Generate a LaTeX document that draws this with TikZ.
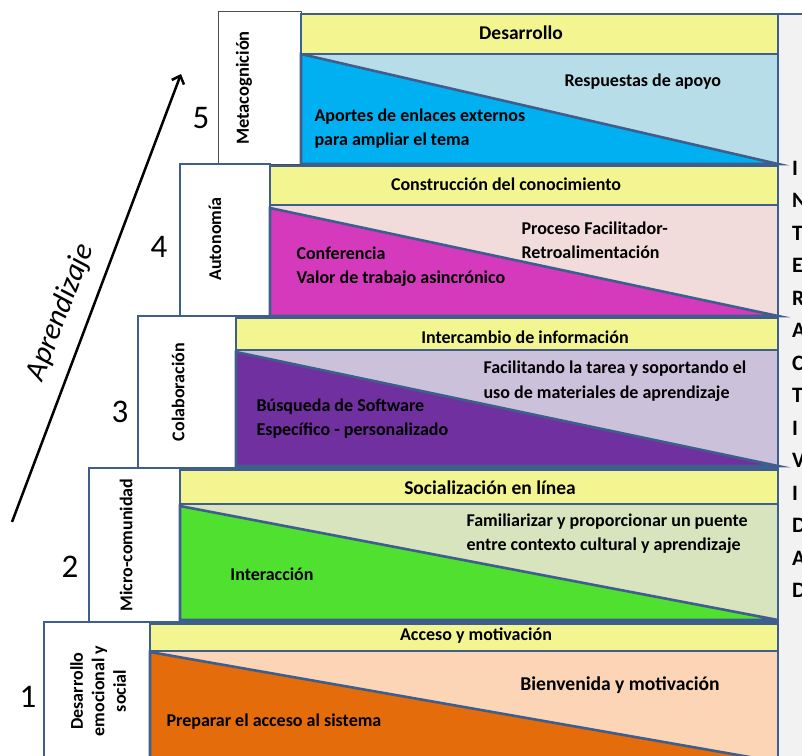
\documentclass[tikz,border=0pt]{standalone}
\usepackage{fontspec}
\setmainfont{Carlito}
\usetikzlibrary{arrows.meta}
\definecolor{borde}{HTML}{3F5E8D}
\definecolor{amarillo}{HTML}{F3F690}
\definecolor{celeste}{HTML}{B7DDE8}
\definecolor{azul}{HTML}{00B0F0}
\definecolor{rosado}{HTML}{F2DCDB}
\definecolor{magenta}{HTML}{D43ABB}
\definecolor{lila}{HTML}{CCC1DA}
\definecolor{morado}{HTML}{7030A0}
\definecolor{verdeclaro}{HTML}{D8E4BE}
\definecolor{verde}{HTML}{50E030}
\definecolor{durazno}{HTML}{FBD5B5}
\definecolor{naranja}{HTML}{E46C0A}
\definecolor{gris}{HTML}{F2F2F2}
\begin{document}
\begin{tikzpicture}[x = 1pt, y = -1pt,
  marco/.style = {draw = borde, line width = 2.6pt},
  titulo/.style = {font = \bfseries\fontsize{18}{20}\selectfont},
  texto/.style = {font = \bfseries\fontsize{18}{24.5}\selectfont, align = left, anchor = west},
  etiqueta/.style = {font = \bfseries\fontsize{18}{21.5}\selectfont, rotate = 90, align = center},
  numero/.style = {font = \fontsize{33}{33}\selectfont}]
\useasboundingbox (0,0) rectangle (802,755);
\clip (0,0) rectangle (802,755);
% columna derecha
\filldraw[fill = gris, marco] (778,14) rectangle (840,800);
\node[anchor = north west, align = left, inner sep = 0pt, font = \bfseries\fontsize{22}{32.5}\selectfont]
  at (792,161) (inter) {I\\N\\T\\E\\R\\A\\C\\T\\I\\V\\I\\D\\A\\D};
% nivel 5
\filldraw[fill = white, draw = black!70, line width = 0.8pt] (218,11) rectangle (301,164);
\filldraw[fill = amarillo, marco] (301,14) rectangle (778,54);
\filldraw[fill = celeste, marco] (301,54) rectangle (778,164);
\filldraw[fill = azul, marco] (301,54) -- (778,164) -- (301,164) -- cycle;
\node[etiqueta, font = \bfseries\fontsize{18.5}{21.5}\selectfont] at (244,88) (meta) {Metacognición};
\node[numero] at (201,118) (n5) {5};
\node[font = \bfseries\fontsize{19.5}{20}\selectfont] at (521,33) (desa) {Desarrollo};
\node[texto] at (561,82) (resp) {Respuestas de apoyo};
\node[texto] at (311,128.5) (apor) {Aportes de enlaces externos\\para ampliar el tema};
% nivel 4
\filldraw[fill = white, marco] (180,164) rectangle (270,316);
\filldraw[fill = amarillo, marco] (270,166) rectangle (778,205);
\filldraw[fill = rosado, marco] (270,205) rectangle (778,316);
\filldraw[fill = magenta, marco] (270,208) -- (778,316) -- (270,316) -- cycle;
\node[etiqueta] at (215,239) (auto) {Autonomía};
\node[numero] at (159,247) (n4) {4};
\node[titulo] at (506,184) (cons) {Construcción del conocimiento};
\node[texto] at (518,240) (proc) {Proceso Facilitador-\\Retroalimentación};
\node[texto] at (293,266.5) (conf) {Conferencia\\Valor de trabajo asincrónico};
% nivel 3
\filldraw[fill = white, marco] (138,316) rectangle (236,468);
\filldraw[fill = amarillo, marco] (236,318) rectangle (778,350);
\filldraw[fill = lila, marco] (236,350) rectangle (778,468);
\filldraw[fill = morado, marco] (236,352) -- (778,466) -- (236,466) -- cycle;
\node[etiqueta] at (178,392) (cola) {Colaboración};
\node[numero] at (120,412) (n3) {3};
\node[titulo] at (525,337) (inte) {Intercambio de información};
\node[texto] at (480,381) (faci) {Facilitando la tarea y soportando el\\uso de materiales de aprendizaje};
\node[texto] at (253,418.5) (busq) {Búsqueda de Software\\Específico - personalizado};
% nivel 2
\filldraw[fill = white, marco] (89,468) rectangle (180,622);
\filldraw[fill = amarillo, marco] (180,470) rectangle (778,504);
\filldraw[fill = verdeclaro, marco] (180,504) rectangle (778,622);
\filldraw[fill = verde, marco] (180,506) -- (778,620) -- (180,620) -- cycle;
\node[etiqueta] at (126,545) (micro) {Micro-comunidad};
\node[numero] at (70,567) (n2) {2};
\node[titulo, font = \bfseries\fontsize{19.5}{20}\selectfont] at (490,488) (soci) {Socialización en línea};
\node[texto] at (463,533.5) (fami) {Familiarizar y proporcionar un puente\\entre contexto cultural y aprendizaje};
\node[font = \bfseries\fontsize{18}{20}\selectfont] at (272,574) (inter2) {Interacción};
% nivel 1
\filldraw[fill = white, marco] (44,622) rectangle (150,800);
\filldraw[fill = amarillo, marco] (150,624) rectangle (778,651);
\filldraw[fill = durazno, marco] (150,651) rectangle (778,762);
\filldraw[fill = naranja, marco] (150,652) -- (778,762) -- (150,762) -- cycle;
\node[etiqueta] at (98,691) (emoc) {Desarrollo\\emocional y\\social};
\node[numero] at (28,697) (n1) {1};
\node[titulo] at (476,635.5) (acce) {Acceso y motivación};
\node[font = \bfseries\fontsize{19.6}{20}\selectfont] at (620,685) (bien) {Bienvenida y motivación};
\node[texto] at (163,722) (prep) {Preparar el acceso al sistema};
% flecha
\coordinate (inicio) at (12,522);
\coordinate (fin) at (181,74);
\draw[-{Straight Barb[length = 7pt, width = 13pt]}, line width = 2.5pt] (inicio) -- (fin);
\node[rotate = 69.3, anchor = east, font = \itshape\fontsize{30}{30}\selectfont] at (87,242) (apre) {Aprendizaje};
\end{tikzpicture}
\end{document}
